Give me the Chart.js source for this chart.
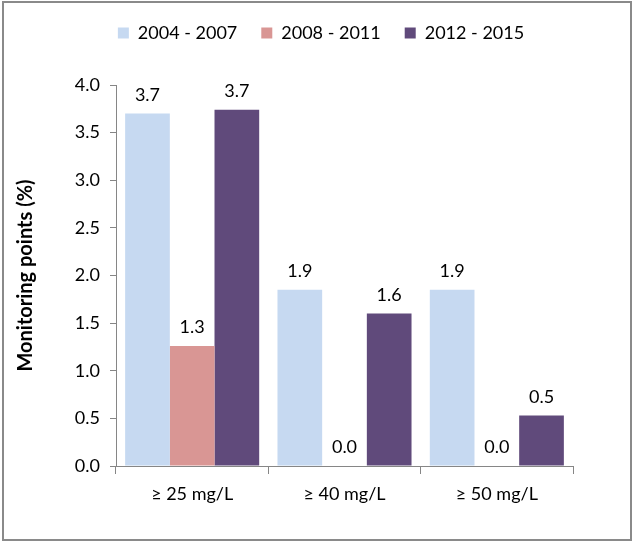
<!DOCTYPE html>
<html>
<head>
<meta charset="utf-8">
<script src="https://cdn.jsdelivr.net/npm/chart.js@4"></script>
<style>
  body { margin: 0; background: #fff; }
  #frame { position: absolute; left: 2px; top: 1px; width: 626px; height: 536px; border: 2px solid #8a8a8a; }
  #wrap { position: absolute; left: 0; top: 0; width: 634px; height: 543px; }
</style>
</head>
<body>
<div id="frame"></div>
<div id="wrap"><canvas id="chart"></canvas></div>
<script>
// chart values
const categories = ['\u2265 25 mg/L', '\u2265 40 mg/L', '\u2265 50 mg/L'];
const seriesNames = ['2004 - 2007', '2008 - 2011', '2012 - 2015'];
const values2004 = [3.70, 1.85, 1.85];
const values2008 = [1.26, 0.0, 0.0];
const values2012 = [3.74, 1.60, 0.53];
const yTicks = [0, 0.5, 1.0, 1.5, 2.0, 2.5, 3.0, 3.5, 4.0];
const yTitle = 'Monitoring points (%)';

const colors = ['#C6D9F1', '#D99694', '#604A7B'];
const font = "Lato, 'Open Sans', sans-serif";

// draws the value over each bar, plus the y title
const valueLabels = {
    id: 'valueLabels',
    afterDatasetsDraw(chart) {
        const ctx = chart.ctx;
        ctx.save();
        ctx.font = '18px ' + font;
        ctx.fillStyle = '#000';
        ctx.textAlign = 'center';
        ctx.textBaseline = 'alphabetic';
        chart.data.datasets.forEach((ds, i) => {
            chart.getDatasetMeta(i).data.forEach((bar, j) => {
                ctx.fillText(ds.data[j].toFixed(1), bar.x, bar.y - 13);
            });
        });
        const area = chart.chartArea;
        ctx.translate(26, (area.top + area.bottom) / 2);
        ctx.rotate(-Math.PI / 2);
        ctx.font = 'bold 20px ' + font;
        ctx.textBaseline = 'middle';
        ctx.fillText(yTitle, 0, 0);
        ctx.restore();
    }
};

// fixed room under the legend, and legend centred on the whole canvas
const legendRoom = {
    id: 'legendRoom',
    beforeInit(chart) {
        const fit = chart.legend.fit;
        chart.legend.fit = function () {
            fit.bind(chart.legend)();
            this.height = 85;
        };
    },
    afterLayout(chart) {
        chart.legend.left = 8;
        chart.legend.right = 634;
        chart.legend.width = 626;
    }
};

new Chart(document.getElementById('chart'), {
    type: 'bar',
    data: {
        labels: categories,
        datasets: [values2004, values2008, values2012].map((d, i) => ({
            label: seriesNames[i],
            data: d,
            backgroundColor: colors[i],
            borderWidth: 0,
            categoryPercentage: 0.88,
            barPercentage: 1.0
        }))
    },
    options: {
        responsive: true,
        maintainAspectRatio: false,
        animation: false,
        layout: { padding: { left: 14, right: 61, top: 0, bottom: 0 } },
        plugins: {
            legend: {
                position: 'top',
                labels: {
                    boxWidth: 11, boxHeight: 11, padding: 24,
                    color: '#000',
                    font: { family: font, size: 18 }
                }
            },
            tooltip: { enabled: false }
        },
        scales: {
            x: {
                afterFit(s) { s.height = 77; },
                border: { color: '#868686' },
                grid: { drawOnChartArea: false, color: '#868686', tickLength: 8, offset: true },
                ticks: { color: '#000', font: { family: font, size: 18 }, padding: 9 }
            },
            y: {
                min: 0, max: 4,
                afterFit(s) { s.width = 102; },
                afterBuildTicks(scale) { scale.ticks = yTicks.map(v => ({ value: v })); },
                border: { color: '#868686' },
                grid: { drawOnChartArea: false, color: '#868686', tickLength: 6 },
                ticks: {
                    color: '#000', padding: 10,
                    font: { family: font, size: 18 },
                    callback: v => v.toFixed(1)
                }
            }
        }
    },
    plugins: [valueLabels, legendRoom]
});
</script>
</body>
</html>
